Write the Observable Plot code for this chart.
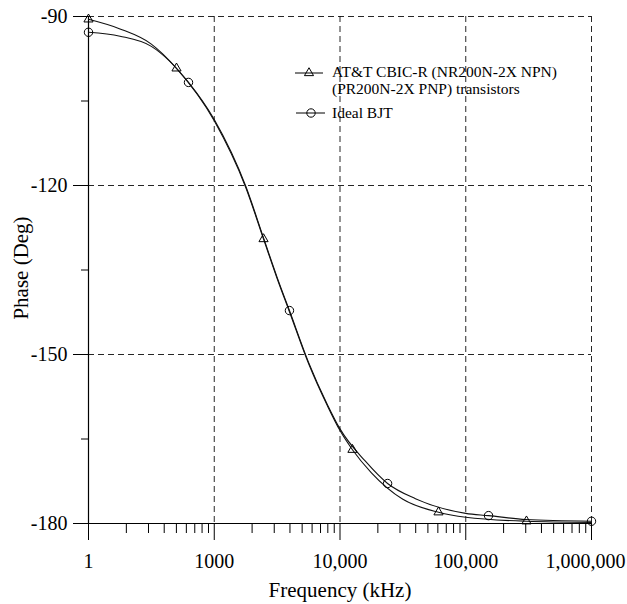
<!DOCTYPE html>
<html>
<head>
<meta charset="utf-8">
<script src="https://cdn.jsdelivr.net/npm/d3@7"></script>
<script src="https://cdn.jsdelivr.net/npm/@observablehq/plot@0.6"></script>
<style>
  html, body { margin: 0; padding: 0; background: #fff; }
  #chart { width: 627px; height: 604px; }
</style>
</head>
<body>
<div id="chart"></div>
<script>
// ---- tick values and labels ----
const xTicks = [100, 1000, 10000, 100000, 1000000];
const xTickLabels = ["1", "1000", "10,000", "100,000", "1,000,000"];
const yTicks = [-90, -120, -150, -180];
const yTickLabels = ["-90", "-120", "-150", "-180"];
const yMinorTicks = [-105, -135, -165];
const xMinorMultipliers = [2, 3, 4, 5, 6, 7, 8, 9];

// ---- series: AT&T CBIC-R curve ----
const attFreq  = [100, 178, 316, 501, 1000, 1778, 2466, 3162, 3963, 5623, 7943, 10000, 12560, 17780, 31620, 60700, 100000, 304000, 1000000];
const attPhase = [-90.5, -92.2, -94.9, -99.2, -108.5, -120.3, -129.5, -136.5, -142.4, -151.6, -159.1, -163.5, -166.9, -171.0, -175.7, -178.0, -178.9, -179.6, -179.8];
// markers (triangles)
const attMarkFreq  = [100, 501, 2466, 12560, 60700, 304000];
const attMarkPhase = [-90.5, -99.2, -129.5, -166.9, -178.0, -179.6];

// ---- series: Ideal BJT curve ----
const idealFreq  = [100, 178, 316, 624, 1000, 1778, 2466, 3162, 3963, 5623, 7943, 10000, 15850, 23900, 39810, 100000, 151800, 300000, 1000000];
const idealPhase = [-92.8, -93.5, -95.3, -101.7, -108.3, -120.1, -129.3, -136.3, -142.2, -151.4, -158.9, -163.2, -168.9, -172.9, -175.6, -178.2, -178.6, -179.3, -179.6];
// markers (circles)
const idealMarkFreq  = [100, 624, 3963, 23900, 151800, 1000000];
const idealMarkPhase = [-92.8, -101.7, -142.2, -172.9, -178.6, -179.6];

const legendLines = ["AT&T CBIC-R (NR200N-2X NPN)", "(PR200N-2X PNP) transistors"];
const legendIdeal = "Ideal BJT";
const xTitle = "Frequency (kHz)";
const yTitle = "Phase (Deg)";

// ---- build tables ----
const att = attFreq.map((f, i) => ({f, p: attPhase[i]}));
const ideal = idealFreq.map((f, i) => ({f, p: idealPhase[i]}));
const attMarks = attMarkFreq.map((f, i) => ({f, p: attMarkPhase[i]}));
const idealMarks = idealMarkFreq.map((f, i) => ({f, p: idealMarkPhase[i]}));
const xMinor = [];
for (let k = 0; k < xTicks.length - 1; k++) for (const m of xMinorMultipliers) xMinor.push(xTicks[k] * m);
const xLabelRows = xTicks.map((t, i) => ({t, label: xTickLabels[i]}));
const xLabelsMain = xLabelRows.slice(0, -1);
const xLabelsLast = xLabelRows.slice(-1);

const FONT = "Liberation Serif, Times New Roman, serif";
const dash = "6,4";

const svg = Plot.plot({
  width: 627,
  height: 604,
  marginLeft: 88,
  marginRight: 36,
  marginTop: 16,
  marginBottom: 81,
  style: {fontFamily: FONT, background: "#fff", color: "#000"},
  x: {type: "log", domain: [100, 1000000]},
  y: {domain: [-180, -90]},
  marks: [
    Plot.gridX(xTicks.slice(1), {stroke: "#000", strokeOpacity: 0.85, strokeDasharray: dash}),
    Plot.gridY(yTicks, {stroke: "#000", strokeOpacity: 0.85, strokeDasharray: dash}),
    Plot.ruleX([100], {stroke: "#000", strokeWidth: 1.2}),
    Plot.ruleY([-180], {stroke: "#000", strokeWidth: 1}),
    Plot.axisX(xTicks, {tickSize: 17, tickFormat: () => "", label: null}),
    Plot.axisX(xMinor, {tickSize: 10, tickFormat: () => "", label: null}),
    Plot.text(xLabelsMain, {x: "t", text: "label", frameAnchor: "bottom", dy: 30, lineAnchor: "top",
      textAnchor: "middle", fontSize: 20, fontFamily: FONT, fill: "#000"}),
    Plot.text(xLabelsLast, {x: "t", text: "label", frameAnchor: "bottom", dy: 30, dx: 34, lineAnchor: "top",
      textAnchor: "end", fontSize: 20, fontFamily: FONT, fill: "#000"}),
    Plot.axisY(yTicks, {
      tickSize: 15, tickPadding: 6, fontSize: 20, fontFamily: FONT, label: null,
      tickFormat: d => yTickLabels[yTicks.indexOf(d)]
    }),
    Plot.axisY(yMinorTicks, {tickSize: 7, tickFormat: () => "", label: null}),
    Plot.line(ideal, {x: "f", y: "p", curve: "monotone-x", stroke: "#111", strokeWidth: 1.1}),
    Plot.line(att, {x: "f", y: "p", curve: "monotone-x", stroke: "#111", strokeWidth: 1.1}),
    Plot.dot(attMarks, {x: "f", y: "p", symbol: "triangle", r: 3.4, stroke: "#000", fill: "none", strokeWidth: 1}),
    Plot.dot(idealMarks, {x: "f", y: "p", symbol: "circle", r: 4.2, stroke: "#000", fill: "none", strokeWidth: 1}),
    Plot.text([xTitle], {text: d => d, frameAnchor: "bottom", dy: 67, fontSize: 21, fontFamily: FONT,
      lineAnchor: "middle", textAnchor: "middle", fill: "#000"}),
    Plot.text([yTitle], {text: d => d, frameAnchor: "left", dx: -67, dy: -2, rotate: -90, fontSize: 21,
      fontFamily: FONT, lineAnchor: "middle", textAnchor: "middle", fill: "#000"})
  ]
});

document.getElementById("chart").appendChild(svg);

// ---- legend (inside the plot, upper right) ----
const g = d3.select(svg).append("g").attr("font-family", FONT).attr("font-size", 15.5)
  .attr("fill", "#000").attr("text-anchor", "start");
g.append("line").attr("x1", 295).attr("x2", 323).attr("y1", 73).attr("y2", 73).attr("stroke", "#000");
g.append("path").attr("d", d3.symbol(d3.symbolTriangle, 36)()).attr("transform", "translate(309,73)")
  .attr("fill", "none").attr("stroke", "#000");
legendLines.forEach((t, i) => {
  g.append("text").attr("x", 332).attr("y", 77 + i * 17).text(t);
});
g.append("line").attr("x1", 296).attr("x2", 325).attr("y1", 113).attr("y2", 113).attr("stroke", "#000");
g.append("circle").attr("cx", 311).attr("cy", 113).attr("r", 4.2).attr("fill", "none").attr("stroke", "#000");
g.append("text").attr("x", 332).attr("y", 118).text(legendIdeal);
</script>
</body>
</html>
